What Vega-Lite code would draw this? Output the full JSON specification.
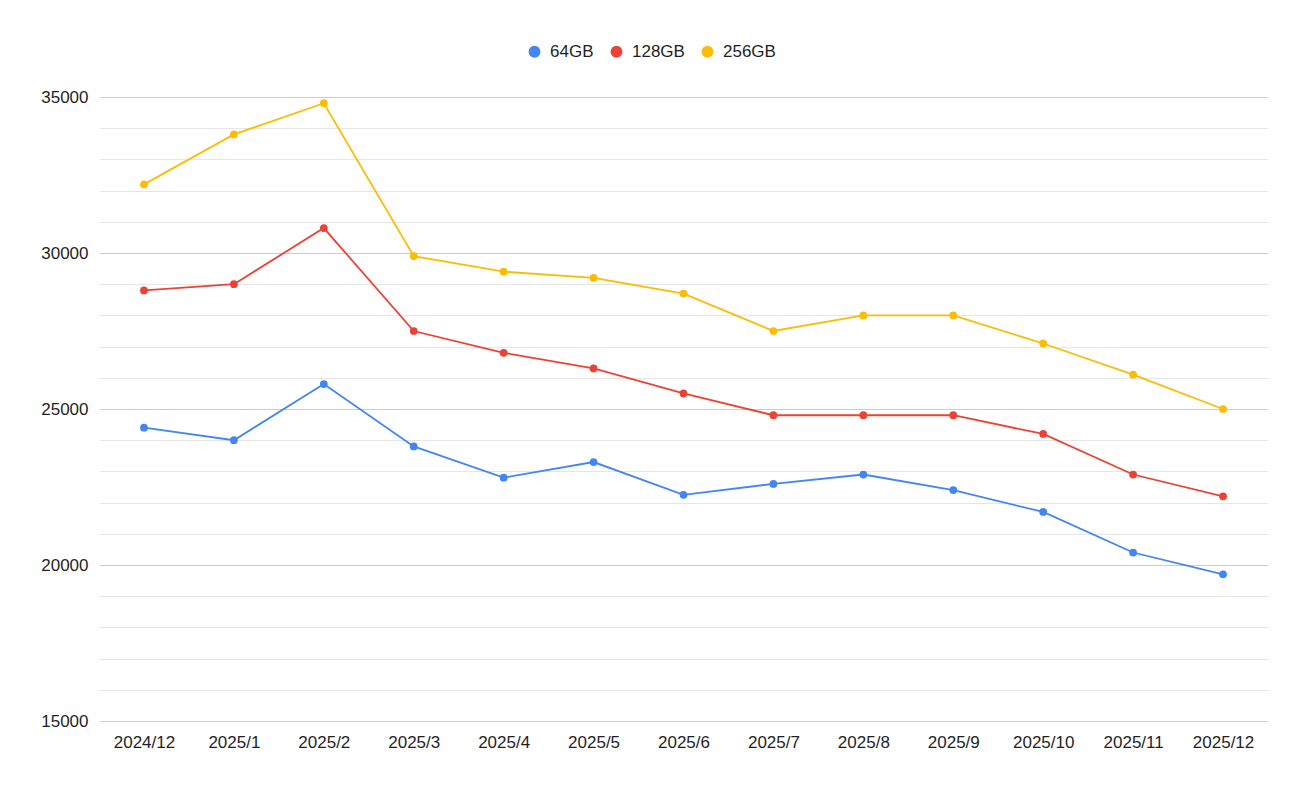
{
  "$schema": "https://vega.github.io/schema/vega-lite/v6.json",
  "width": 1169,
  "height": 624,
  "autosize": "none",
  "padding": {"left": 99, "top": 97, "right": 40, "bottom": 70},
  "background": "white",
  "config": {
    "view": {"stroke": null},
    "font": "Liberation Sans",
    "axis": {"labelFont": "Liberation Sans", "labelFontSize": 17, "labelColor": "#1f1f1f", "title": null}
  },
  "data": {
    "values": [
      {"month": "2024/12", "series": "64GB", "price": 24400},
      {"month": "2025/1", "series": "64GB", "price": 24000},
      {"month": "2025/2", "series": "64GB", "price": 25800},
      {"month": "2025/3", "series": "64GB", "price": 23800},
      {"month": "2025/4", "series": "64GB", "price": 22800},
      {"month": "2025/5", "series": "64GB", "price": 23300},
      {"month": "2025/6", "series": "64GB", "price": 22250},
      {"month": "2025/7", "series": "64GB", "price": 22600},
      {"month": "2025/8", "series": "64GB", "price": 22900},
      {"month": "2025/9", "series": "64GB", "price": 22400},
      {"month": "2025/10", "series": "64GB", "price": 21700},
      {"month": "2025/11", "series": "64GB", "price": 20400},
      {"month": "2025/12", "series": "64GB", "price": 19700},
      {"month": "2024/12", "series": "128GB", "price": 28800},
      {"month": "2025/1", "series": "128GB", "price": 29000},
      {"month": "2025/2", "series": "128GB", "price": 30800},
      {"month": "2025/3", "series": "128GB", "price": 27500},
      {"month": "2025/4", "series": "128GB", "price": 26800},
      {"month": "2025/5", "series": "128GB", "price": 26300},
      {"month": "2025/6", "series": "128GB", "price": 25500},
      {"month": "2025/7", "series": "128GB", "price": 24800},
      {"month": "2025/8", "series": "128GB", "price": 24800},
      {"month": "2025/9", "series": "128GB", "price": 24800},
      {"month": "2025/10", "series": "128GB", "price": 24200},
      {"month": "2025/11", "series": "128GB", "price": 22900},
      {"month": "2025/12", "series": "128GB", "price": 22200},
      {"month": "2024/12", "series": "256GB", "price": 32200},
      {"month": "2025/1", "series": "256GB", "price": 33800},
      {"month": "2025/2", "series": "256GB", "price": 34800},
      {"month": "2025/3", "series": "256GB", "price": 29900},
      {"month": "2025/4", "series": "256GB", "price": 29400},
      {"month": "2025/5", "series": "256GB", "price": 29200},
      {"month": "2025/6", "series": "256GB", "price": 28700},
      {"month": "2025/7", "series": "256GB", "price": 27500},
      {"month": "2025/8", "series": "256GB", "price": 28000},
      {"month": "2025/9", "series": "256GB", "price": 28000},
      {"month": "2025/10", "series": "256GB", "price": 27100},
      {"month": "2025/11", "series": "256GB", "price": 26100},
      {"month": "2025/12", "series": "256GB", "price": 25000}
    ]
  },
  "encoding": {
    "x": {
      "field": "month", "type": "ordinal", "sort": null,
      "scale": {"type": "point", "padding": 0.5},
      "axis": {"labelAngle": 0, "ticks": false, "domain": false, "grid": false, "labelPadding": 13}
    },
    "y": {
      "field": "price", "type": "quantitative",
      "scale": {"domain": [15000, 35000], "nice": false, "zero": false},
      "axis": {
        "values": [15000,16000,17000,18000,19000,20000,21000,22000,23000,24000,25000,26000,27000,28000,29000,30000,31000,32000,33000,34000,35000],
        "labelExpr": "datum.value % 5000 === 0 ? datum.value : ''",
        "format": "d",
        "ticks": false, "domain": false, "grid": true,
        "gridColor": {"condition": {"test": "datum.value % 5000 === 0", "value": "#cccccc"}, "value": "#e6e6e6"},
        "gridWidth": 1,
        "labelPadding": 11
      }
    },
    "color": {
      "field": "series", "type": "nominal",
      "scale": {"domain": ["64GB", "128GB", "256GB"], "range": ["#4285F4", "#EA4335", "#FBBC04"]},
      "legend": {
        "title": null, "orient": "none", "direction": "horizontal",
        "legendX": 427, "legendY": -54,
        "symbolType": "circle", "symbolSize": 140, "symbolStrokeWidth": 0,
        "labelFontSize": 17, "labelFont": "Liberation Sans", "labelColor": "#1f1f1f",
        "columnPadding": 14, "labelOffset": 7
      }
    }
  },
  "layer": [
    {"mark": {"type": "line", "strokeWidth": 1.8}},
    {"mark": {"type": "point", "filled": true, "size": 60, "opacity": 1}}
  ]
}
